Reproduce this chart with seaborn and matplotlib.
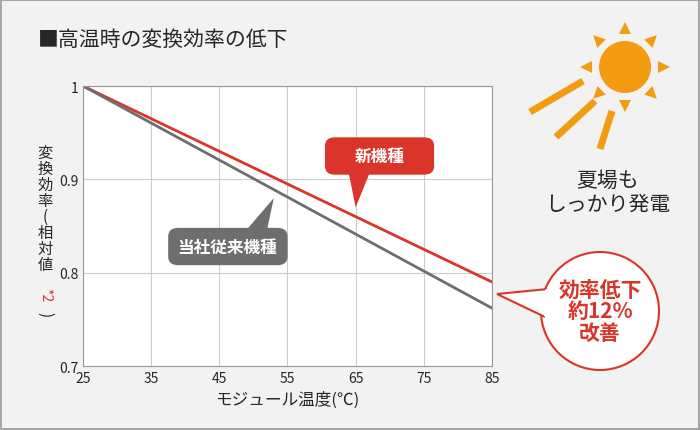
import numpy as np
import pandas as pd
import matplotlib.pyplot as plt
import seaborn as sns
from matplotlib.patches import FancyBboxPatch, Ellipse, Polygon, Rectangle

temps = [25, 85]
new_eff = [1.0, 0.79]
old_eff = [1.0, 0.762]
xticks = [25, 35, 45, 55, 65, 75, 85]
yticks = [0.7, 0.8, 0.9, 1.0]
ylabels = ["0.7", "0.8", "0.9", "1"]

df = pd.DataFrame({
    "temp": temps * 2,
    "eff": new_eff + old_eff,
    "kind": ["新機種"] * 2 + ["当社従来機種"] * 2,
})

sns.set_style("white")
plt.rcParams['font.family'] = ['Noto Sans CJK JP', 'DejaVu Sans']

W, H = 700, 431


def px(x, y):
    return (x / W, 1 - y / H)


fig = plt.figure(figsize=(7, 4.31), dpi=100)
fig.patch.set_facecolor("#f2f2f2")
fig.patches.append(Rectangle((0.002, 0.002), 0.996, 0.996, transform=fig.transFigure,
                             fill=False, edgecolor="#999999", lw=1.2))
ax = fig.add_axes([83 / W, 1 - 367 / H, 409 / W, 280 / H])
ax.set_facecolor("white")

sns.lineplot(data=df, x="temp", y="eff", hue="kind",
             palette={"新機種": "#d9352a", "当社従来機種": "#6e6e6e"},
             lw=2, legend=False, ax=ax)
ax.set_xlim(25, 85)
ax.set_ylim(0.7, 1.0)
ax.set_xticks(xticks)
ax.set_yticks(yticks)
ax.set_yticklabels(ylabels)
ax.tick_params(labelsize=10, length=0)
ax.grid(True, color="#cccccc", lw=0.8)
for s in ax.spines.values():
    s.set_color("#999999")
ax.set_xlabel("モジュール温度(℃)", fontsize=12)
ax.set_ylabel("")

fig.text(*px(38, 40), "■高温時の変換効率の低下", fontsize=15, va="center")
fig.text(*px(45, 145), "変\n換\n効\n率\n(\n相\n対\n値", fontsize=11, ha="center", va="top", linespacing=0.92)
fig.text(*px(45, 288), "*2", fontsize=10, color="#d9352a", ha="center", va="top", rotation=-90)
fig.text(*px(45, 312), ")", fontsize=11, ha="center", va="top", rotation=-90)

# callouts
ax.add_patch(FancyBboxPatch((60.5, 0.905), 16, 0.04, boxstyle="round,pad=0.005,rounding_size=1.5",
                            fc="#d9352a", ec="none", mutation_aspect=0.006))
ax.add_patch(Polygon([[64, 0.906], [67, 0.906], [65, 0.87]], fc="#d9352a", ec="none"))
ax.text(68.5, 0.925, "新機種", color="white", fontsize=12, fontweight="bold", ha="center", va="center")
ax.add_patch(FancyBboxPatch((37.5, 0.808), 17.5, 0.04, boxstyle="round,pad=0.005,rounding_size=1.5",
                            fc="#6e6e6e", ec="none", mutation_aspect=0.006))
ax.add_patch(Polygon([[49, 0.846], [52, 0.846], [53, 0.88]], fc="#6e6e6e", ec="none"))
ax.text(46.2, 0.828, "当社従来機種", color="white", fontsize=12, fontweight="bold", ha="center", va="center")

fig.text(*px(608, 193), "夏場も\nしっかり発電", fontsize=15, ha="center", va="center", linespacing=1.1)

# red circle callout
fig.patches.append(Ellipse(px(600, 312), 118 / W, 118 / H, transform=fig.transFigure,
                           fc="white", ec="#d9352a", lw=1.5))
fig.patches.append(Polygon([px(548, 290), px(497, 295), px(545, 318)], closed=False,
                           transform=fig.transFigure, fc="white", ec="#d9352a", lw=1.5))
fig.patches.append(Polygon([px(549, 288), px(552, 320), px(544, 317), px(545, 291)], closed=True,
                           transform=fig.transFigure, fc="white", ec="none"))
fig.text(*px(600, 312), "効率低下\n約12%\n改善", fontsize=15, fontweight="bold", color="#d9352a",
         ha="center", va="center", linespacing=1.05)

# sun
scx, scy, sr = 625, 68, 26
fig.patches.append(Ellipse(px(scx, scy), 2 * sr / W, 2 * sr / H, transform=fig.transFigure,
                           fc="#f39c12", ec="none"))
for a in np.deg2rad(np.arange(0, 360, 45)):
    u = np.array([np.cos(a), -np.sin(a)])
    n = np.array([-u[1], u[0]])
    base = np.array([scx, scy]) + u * 33
    tip = np.array([scx, scy]) + u * 45
    fig.patches.append(Polygon([px(*tip), px(*(base + n * 6)), px(*(base - n * 6))],
                               transform=fig.transFigure, fc="#f39c12", ec="none"))
for (x0, y0, x1, y1) in [(583, 82, 530, 113), (595, 102, 556, 138), (612, 112, 600, 150)]:
    fig.add_artist(plt.Line2D([x0 / W, x1 / W], [1 - y0 / H, 1 - y1 / H], transform=fig.transFigure,
                              color="#f39c12", lw=5, solid_capstyle="butt"))

fig.savefig("out.png", dpi=100, facecolor=fig.get_facecolor())
